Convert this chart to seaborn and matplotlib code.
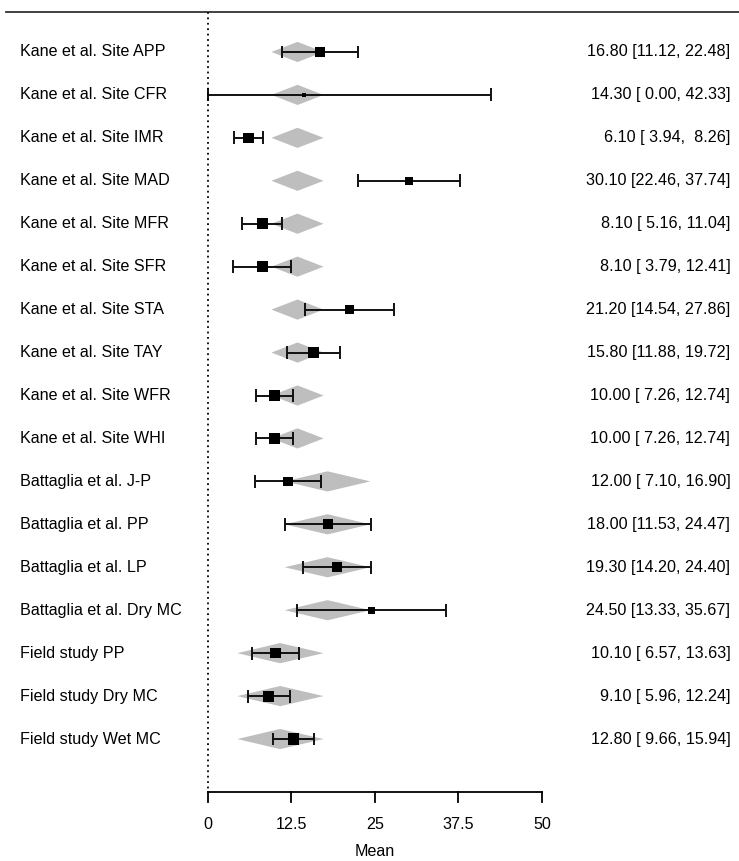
import numpy as np
import pandas as pd
import matplotlib
matplotlib.use("Agg")
import matplotlib.pyplot as plt
from matplotlib.patches import Polygon
import seaborn as sns

# Study labels, observed means and their confidence limits
studies = ["Kane et al. Site APP", "Kane et al. Site CFR", "Kane et al. Site IMR",
           "Kane et al. Site MAD", "Kane et al. Site MFR", "Kane et al. Site SFR",
           "Kane et al. Site STA", "Kane et al. Site TAY", "Kane et al. Site WFR",
           "Kane et al. Site WHI", "Battaglia et al. J-P", "Battaglia et al. PP",
           "Battaglia et al. LP", "Battaglia et al. Dry MC", "Field study PP",
           "Field study Dry MC", "Field study Wet MC"]
means = [16.80, 14.30, 6.10, 30.10, 8.10, 8.10, 21.20, 15.80, 10.00, 10.00,
         12.00, 18.00, 19.30, 24.50, 10.10, 9.10, 12.80]
ci_low = [11.12, 0.00, 3.94, 22.46, 5.16, 3.79, 14.54, 11.88, 7.26, 7.26,
          7.10, 11.53, 14.20, 13.33, 6.57, 5.96, 9.66]
ci_high = [22.48, 42.33, 8.26, 37.74, 11.04, 12.41, 27.86, 19.72, 12.74, 12.74,
           16.90, 24.47, 24.40, 35.67, 13.63, 12.24, 15.94]
# relative weights (square area)
weights = [90, 16, 114, 69, 121, 121, 81, 114, 128, 128,
           94, 94, 106, 53, 114, 121, 128]

# fitted values per group (grey diamonds)
groups = ["Kane"] * 10 + ["Battaglia"] * 4 + ["Field"] * 3
fit_est = {"Kane": 13.4, "Battaglia": 17.9, "Field": 10.8}
fit_low = {"Kane": 9.5, "Battaglia": 11.5, "Field": 4.4}
fit_high = {"Kane": 17.3, "Battaglia": 24.3, "Field": 17.3}

xticks = [0, 12.5, 25, 37.5, 50]
xtick_labels = ["0", "12.5", "25", "37.5", "50"]

df = pd.DataFrame({"study": studies, "mean": means, "lo": ci_low,
                   "hi": ci_high, "w": weights, "group": groups})
df["row"] = np.arange(1, len(df) + 1)

plt.rcParams["font.family"] = ["Liberation Sans", "DejaVu Sans"]
fig = plt.figure(figsize=(7.39, 8.61), dpi=100)
ax = fig.add_axes([0, 0, 1, 1])
ax.set_xlim(-31.14, 79.5)
ax.set_ylim(19.84, -0.21)
ax.axis("off")

# grey diamonds for fitted values
for _, r in df.iterrows():
    g = r["group"]
    h = 0.235
    poly = Polygon([(fit_low[g], r["row"]), (fit_est[g], r["row"] - h),
                    (fit_high[g], r["row"]), (fit_est[g], r["row"] + h)],
                   closed=True, facecolor="#bebebe", edgecolor="none", zorder=1)
    ax.add_patch(poly)

# confidence intervals
ax.hlines(df["row"], df["lo"], df["hi"], color="#111111", lw=1.4, zorder=2)
ax.vlines(df["lo"], df["row"] - 0.15, df["row"] + 0.15, color="#111111", lw=1.4, zorder=2)
ax.vlines(df["hi"], df["row"] - 0.15, df["row"] + 0.15, color="#111111", lw=1.4, zorder=2)

# squares (area proportional to weight)
wmin, wmax = min(weights), max(weights)
sns.scatterplot(data=df, x="mean", y="row", size="w",
                sizes=(wmin * 0.5184, wmax * 0.5184), size_norm=(wmin, wmax),
                marker="s", color="black", edgecolor="none",
                legend=False, ax=ax, zorder=3)

# labels
for _, r in df.iterrows():
    ax.text(-28.1, r["row"], r["study"], ha="left", va="center", fontsize=11.6)
    lo_s = f"{r['lo']:5.2f}"
    hi_s = f"{r['hi']:5.2f}"
    ax.text(78.2, r["row"], f"{r['mean']:.2f} [{lo_s}, {hi_s}]",
            ha="right", va="center", fontsize=11.6)

# top line and reference line
ax.plot([-30.2, 79.5], [0.06, 0.06], color="#333333", lw=1.3)
ax.plot([0, 0], [0.06, 18.24], color="black", lw=1.3, ls=(0, (1, 2)))

# x axis
ax.plot([0, 50], [18.24, 18.24], color="black", lw=1.3)
for t, lab in zip(xticks, xtick_labels):
    ax.plot([t, t], [18.24, 18.47], color="black", lw=1.3)
    ax.text(t, 19.0, lab, ha="center", va="center", fontsize=11.6)
ax.text(25, 19.62, "Mean", ha="center", va="center", fontsize=11.6)

fig.savefig("out.png", dpi=100)
